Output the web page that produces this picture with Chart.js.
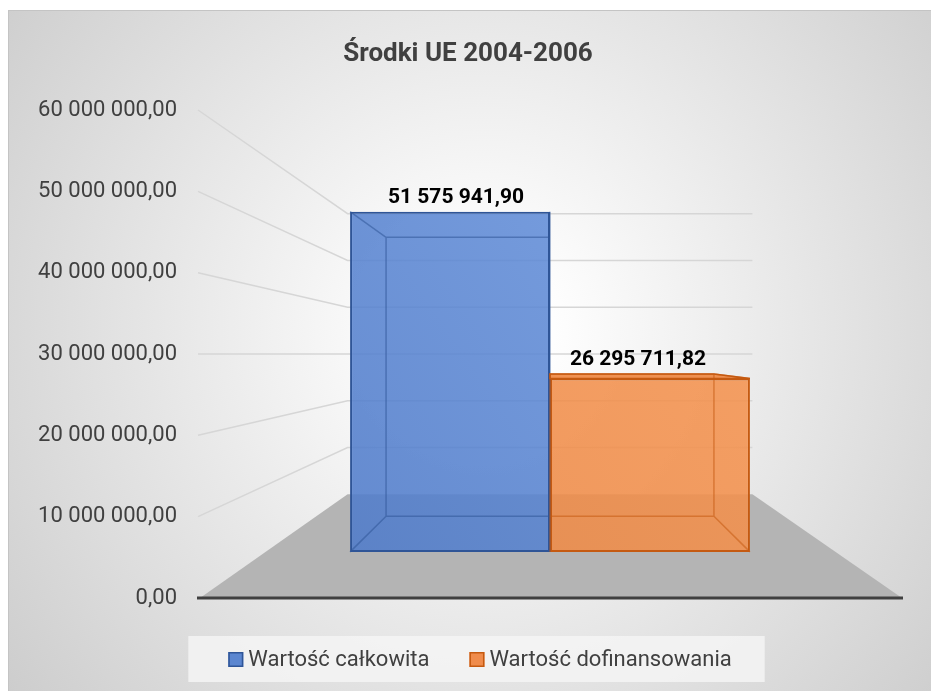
<!DOCTYPE html>
<html>
<head>
<meta charset="utf-8">
<script src="https://cdn.jsdelivr.net/npm/chart.js@4/dist/chart.umd.min.js"></script>
<style>
  body { margin: 0; background: #fff; }
  #wrap { position: relative; width: 931px; height: 691px; }
  #bg {
    position: absolute; left: 8px; top: 10px; right: 0; bottom: 0;
    border-top: 1px solid #c4c4c4; border-left: 1px solid #c4c4c4;
    background: radial-gradient(circle at 475px 320px, #ffffff 0%, #ffffff 10%, #cdcdcd 100%);
  }
  #chart { position: absolute; left: 0; top: 0; }
</style>
</head>
<body>
<div id="wrap">
  <div id="bg"></div>
  <canvas id="chart" width="931" height="691"></canvas>
</div>
<script>
const chartTitle = 'Środki UE 2004-2006';
const categories = [''];
const seriesNames = ['Wartość całkowita', 'Wartość dofinansowania'];
const totalValues = [51575941.90];
const cofundValues = [26295711.82];
const yMin = 0;
const yMax = 60000000;
const yStep = 10000000;

const FRONT = 0.811;  // depth of bar front face (floor front edge = 1)
const BACK = 0.665;   // depth of bar back face
const WALL = 0.575;   // depth of back wall

const fmt = (v) => {
    const [i, d] = Math.abs(v).toFixed(2).split('.');
    return i.replace(/\B(?=(\d{3})+(?!\d))/g, ' ') + ',' + d;
};

const blueFill = 'rgba(68,114,196,0.84)';
const orangeFill = 'rgba(237,125,49,0.84)';
const blueEdge = '#2F5597';
const orangeEdge = '#C55A11';

const gradFill = (c0, c1) => (context) => {
    const a = context.chart.chartArea;
    if (!a) return c0;
    const g = context.chart.ctx.createLinearGradient(a.left, a.bottom, a.right, a.top);
    g.addColorStop(0, c0);
    g.addColorStop(1, c1);
    return g;
};

// perspective: everything is pulled toward the eye point in the middle of the plot
const proj = (vx, vy, x, y, k) => [vx + k * (x - vx), vy + k * (y - vy)];

const plot3d = {
    id: 'plot3d',
    beforeDatasetsDraw(chart) {
        const {ctx, chartArea: a, scales} = chart;
        const y = scales.y;
        const vx = (a.left + a.right) / 2, vy = (a.top + a.bottom) / 2;
        const y0 = y.getPixelForValue(0);
        ctx.save();
        // floor
        const bl = proj(vx, vy, a.left, y0, WALL), br = proj(vx, vy, a.right, y0, WALL);
        ctx.fillStyle = '#b4b4b4';
        ctx.beginPath();
        ctx.moveTo(a.left + 2, y0);
        ctx.lineTo(a.right, y0);
        ctx.lineTo(br[0], br[1]);
        ctx.lineTo(bl[0], bl[1]);
        ctx.closePath();
        ctx.fill();
        // gridlines: side wall + back wall
        ctx.strokeStyle = '#d6d6d6';
        ctx.lineWidth = 1.5;
        y.ticks.forEach(t => {
            if (t.value <= 0) return;
            const yl = y.getPixelForValue(t.value);
            const p = proj(vx, vy, a.left, yl, WALL);
            const q = proj(vx, vy, a.right, yl, WALL);
            ctx.beginPath();
            ctx.moveTo(a.left, yl);
            ctx.lineTo(p[0], p[1]);
            ctx.lineTo(q[0], q[1]);
            ctx.stroke();
        });
        // axis line
        ctx.strokeStyle = '#404040';
        ctx.lineWidth = 3;
        ctx.beginPath();
        ctx.moveTo(a.left - 1, y0);
        ctx.lineTo(a.right + 1, y0);
        ctx.stroke();
        ctx.restore();
    },
    afterDatasetsDraw(chart) {
        const {ctx, chartArea: a} = chart;
        const vx = (a.left + a.right) / 2, vy = (a.top + a.bottom) / 2;
        const k = BACK / FRONT;
        ctx.save();
        chart.data.datasets.forEach((ds, di) => {
            const meta = chart.getDatasetMeta(di);
            meta.data.forEach((bar, i) => {
                const {x, y, base, width} = bar.getProps(['x', 'y', 'base', 'width'], true);
                const l = x - width / 2, r = x + width / 2;
                const tl = proj(vx, vy, l, y, k), tr = proj(vx, vy, r, y, k);
                const bl = proj(vx, vy, l, base, k), br = proj(vx, vy, r, base, k);
                // top face when seen from above
                if (tl[1] < y) {
                    ctx.fillStyle = ds.topColor;
                    ctx.beginPath();
                    ctx.moveTo(l, y); ctx.lineTo(r, y); ctx.lineTo(tr[0], tr[1]); ctx.lineTo(tl[0], tl[1]);
                    ctx.closePath();
                    ctx.fill();
                    ctx.strokeStyle = ds.borderColor;
                    ctx.lineWidth = 1.5;
                    ctx.stroke();
                }
                // hidden edges seen through the glassy box
                ctx.strokeStyle = ds.edgeColor;
                ctx.lineWidth = 1.5;
                ctx.beginPath();
                ctx.moveTo(tl[0], tl[1]); ctx.lineTo(tr[0], tr[1]); ctx.lineTo(br[0], br[1]); ctx.lineTo(bl[0], bl[1]); ctx.closePath();
                ctx.moveTo(l, y); ctx.lineTo(tl[0], tl[1]);
                ctx.moveTo(r, y); ctx.lineTo(tr[0], tr[1]);
                ctx.moveTo(l, base); ctx.lineTo(bl[0], bl[1]);
                ctx.moveTo(r, base); ctx.lineTo(br[0], br[1]);
                ctx.stroke();
                // value label
                const mid = proj(vx, vy, x, y, (1 + k) / 2);
                ctx.fillStyle = '#000';
                ctx.font = 'bold 21px Roboto';
                ctx.textAlign = 'center';
                ctx.textBaseline = 'middle';
                ctx.fillText(fmt(ds.data[i]), mid[0] - 3, Math.min(y, tl[1]) - 14);
            });
        });
        ctx.restore();
    },
    afterDraw(chart) {
        // legend in a light box under the plot
        const {ctx} = chart;
        ctx.save();
        ctx.font = '22px Roboto';
        const items = chart.data.datasets.map(ds => ({ds, w: 15 + 5 + ctx.measureText(ds.label).width}));
        const gap = 40;
        const total = items.reduce((s, it) => s + it.w, 0) + gap * (items.length - 1);
        let x = 480 - total / 2;
        const cy = 659;
        ctx.fillStyle = 'rgba(244,244,244,0.85)';
        ctx.fillRect(x - 40, 636, total + 73, 46);
        ctx.textBaseline = 'middle';
        ctx.textAlign = 'left';
        items.forEach(it => {
            ctx.fillStyle = it.ds.legendColor;
            ctx.fillRect(x, cy - 7, 15, 15);
            ctx.strokeStyle = it.ds.borderColor;
            ctx.lineWidth = 1.5;
            ctx.strokeRect(x + 0.75, cy - 6.25, 13.5, 13.5);
            ctx.fillStyle = '#404040';
            ctx.fillText(it.ds.label, x + 20, cy + 1);
            x += it.w + gap;
        });
        ctx.restore();
    }
};

// hidden axis for the bar front faces: same eye level, scaled by FRONT
const half = (yMax - yMin) / 2 / FRONT;
const eye = (yMax + yMin) / 2;

new Chart(document.getElementById('chart'), {
    type: 'bar',
    data: {
        labels: categories,
        datasets: [
            {
                label: seriesNames[0], data: totalValues, yAxisID: 'yb',
                backgroundColor: gradFill('rgba(72,116,196,0.88)', 'rgba(114,157,228,0.88)'),
                borderColor: blueEdge, borderWidth: 2, borderSkipped: false,
                edgeColor: 'rgba(47,85,151,0.55)', topColor: blueFill, legendColor: '#5B86D0'
            },
            {
                label: seriesNames[1], data: cofundValues, yAxisID: 'yb',
                backgroundColor: gradFill('rgba(232,130,62,0.88)', 'rgba(250,155,88,0.88)'),
                borderColor: orangeEdge, borderWidth: 2, borderSkipped: false,
                edgeColor: 'rgba(197,90,17,0.55)', topColor: orangeFill, legendColor: '#F08C4C'
            }
        ]
    },
    options: {
        responsive: false,
        animation: false,
        layout: { padding: { left: 34, right: 29, top: 10, bottom: 93 } },
        categoryPercentage: 0.568,
        barPercentage: 1,
        scales: {
            x: { display: false },
            y: {
                min: yMin, max: yMax,
                ticks: { stepSize: yStep, callback: (v) => fmt(v), color: '#404040', font: { family: 'Roboto', size: 22 }, padding: 21 },
                grid: { display: false, drawTicks: false },
                border: { display: false },
                afterFit: (s) => { s.width = 164; }
            },
            yb: {
                display: false,
                min: eye - half, max: eye + half
            }
        },
        plugins: {
            legend: { display: false },
            tooltip: { enabled: false },
            title: {
                display: true, text: chartTitle, color: '#404040',
                font: { family: 'Roboto', size: 26, weight: 'bold' },
                padding: { top: 28.4, bottom: 40.4 }
            }
        }
    },
    plugins: [plot3d]
});
</script>
</body>
</html>
